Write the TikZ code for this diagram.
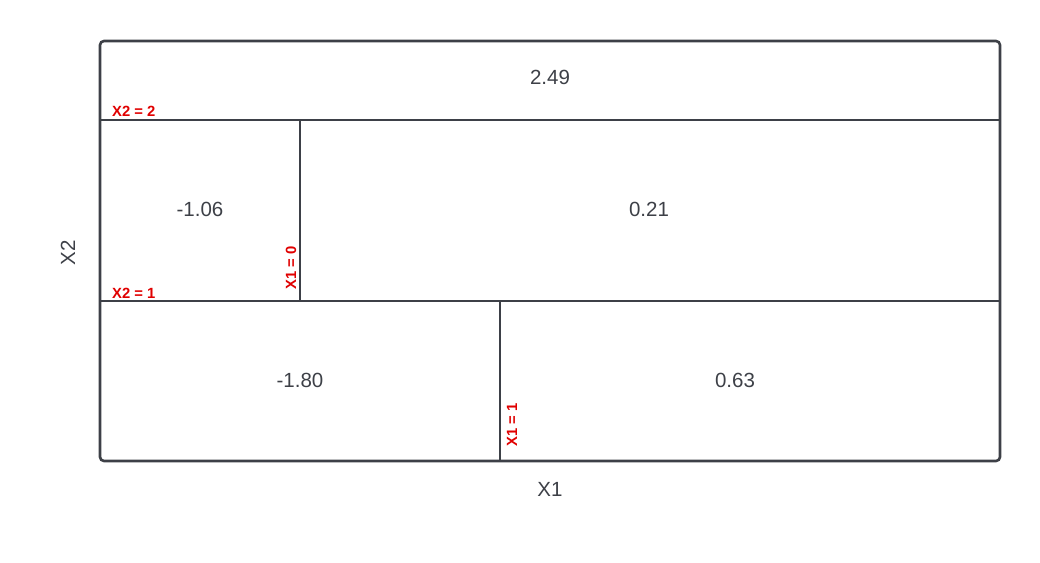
\documentclass[tikz,border=0pt]{standalone}
\usepackage{fontspec}
\setmainfont{Liberation Sans}
\begin{document}
\begin{tikzpicture}[x=1pt,y=-1pt,
  frame/.style={draw=edge,line width=2.6pt,rounded corners=4pt},
  split/.style={draw=edge,line width=1.6pt},
  val/.style={text=txt,font=\fontsize{20.5}{23}\selectfont,inner sep=0pt},
  axis/.style={text=txt,font=\fontsize{20.5}{23}\selectfont,inner sep=0pt},
  cut/.style={text=cutred,font=\bfseries\fontsize{14.8}{16}\selectfont,inner sep=0pt}]
\definecolor{edge}{HTML}{3D4047}
\definecolor{txt}{HTML}{3D4047}
\definecolor{cutred}{HTML}{E00000}
\useasboundingbox (0,0) rectangle (1040,562);
\coordinate (tl) at (100,41);
\coordinate (br) at (1000,461);
\coordinate (a1) at (100,120); \coordinate (a2) at (1000,120);
\coordinate (b1) at (100,301); \coordinate (b2) at (1000,301);
\coordinate (c1) at (300,120); \coordinate (c2) at (300,301);
\coordinate (d1) at (500,301); \coordinate (d2) at (500,461);
\draw[split] (a1) -- (a2);
\draw[split] (b1) -- (b2);
\draw[split] (c1) -- (c2);
\draw[split] (d1) -- (d2);
\draw[frame] (tl) rectangle (br);
\node[val] (v1) at (550,77) {2.49};
\node[val] (v2) at (200,209) {-1.06};
\node[val] (v3) at (649,209) {0.21};
\node[val] (v4) at (300,380) {-1.80};
\node[val] (v5) at (735,380) {0.63};
\node[axis] (x1) at (550,489) {X1};
\node[axis,rotate=90] (x2) at (68,253) {X2};
\node[cut,anchor=west] (s1) at (112,111) {X2 = 2};
\node[cut,anchor=west] (s2) at (112,293) {X2 = 1};
\node[cut,rotate=90] (s3) at (291,268) {X1 = 0};
\node[cut,rotate=90] (s4) at (512,425) {X1 = 1};
\end{tikzpicture}
\end{document}
